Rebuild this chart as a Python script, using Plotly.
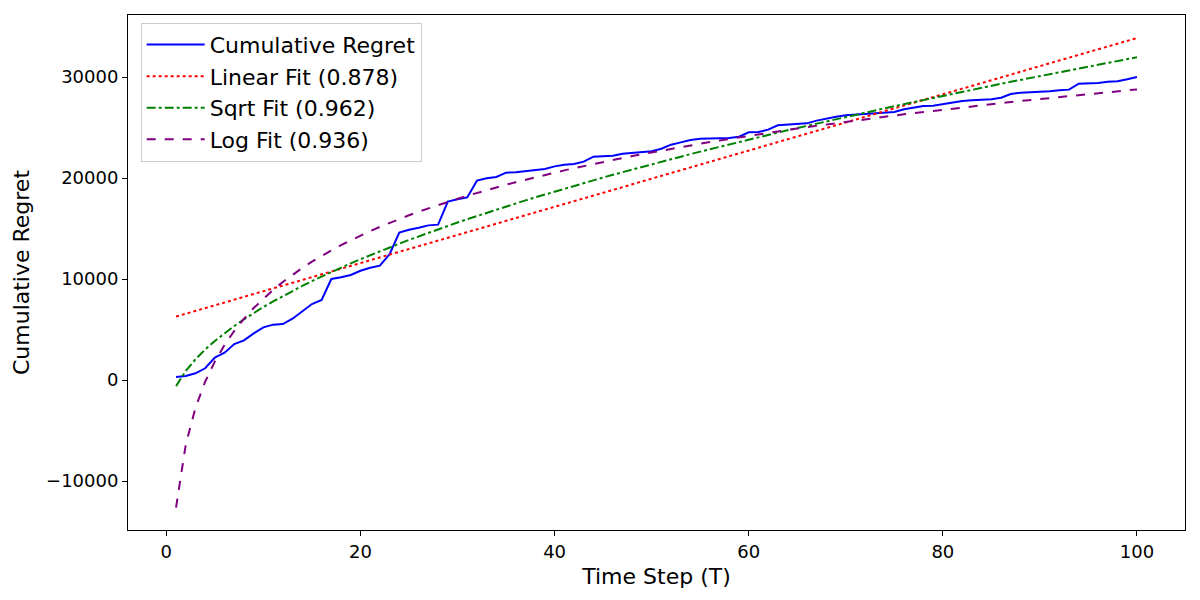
import numpy as np
import plotly.graph_objects as go

# time steps and cumulative regret
steps = list(range(1, 101))
regret = [
    300, 400, 660, 1160, 2210, 2710, 3560, 3920, 4620, 5210,
    5480, 5540, 6070, 6830, 7520, 7920, 10000, 10170, 10400, 10820,
    11120, 11320, 12450, 14590, 14880, 15080, 15310, 15380, 17660, 17890,
    18080, 19740, 19970, 20100, 20530, 20560, 20660, 20790, 20890, 21150,
    21320, 21390, 21620, 22110, 22180, 22210, 22410, 22490, 22510, 22660,
    22900, 23300, 23530, 23760, 23890, 23930, 23930, 23960, 24090, 24520,
    24550, 24790, 25220, 25280, 25280, 25410, 25680, 25910, 26070, 26210,
    26270, 26340, 26400, 26450, 26540, 26800, 27000, 27130, 27160, 27330,
    27430, 27620, 27690, 27720, 27790, 27950, 28320, 28450, 28480, 28510,
    28580, 28680, 28750, 29340, 29370, 29400, 29540, 29570, 29770, 30000,
]
fit_labels = ['Linear Fit (0.878)', 'Sqrt Fit (0.962)', 'Log Fit (0.936)']

t = np.array(steps, dtype=float)
y = np.array(regret, dtype=float)


def ls_fit(feature):
    A = np.column_stack([feature, np.ones_like(feature)])
    coef, *_ = np.linalg.lstsq(A, y, rcond=None)
    return A @ coef


linear_fit = ls_fit(t)
sqrt_fit = ls_fit(np.sqrt(t))
log_fit = ls_fit(np.log(t))

fig = go.Figure()
fig.add_trace(go.Scatter(x=steps, y=regret, mode='lines', name='Cumulative Regret',
                         line=dict(color='blue', width=2)))
fig.add_trace(go.Scatter(x=steps, y=linear_fit, mode='lines', name=fit_labels[0],
                         line=dict(color='red', width=2, dash='dot')))
fig.add_trace(go.Scatter(x=steps, y=sqrt_fit, mode='lines', name=fit_labels[1],
                         line=dict(color='green', width=2, dash='dashdot')))
fig.add_trace(go.Scatter(x=steps, y=log_fit, mode='lines', name=fit_labels[2],
                         line=dict(color='purple', width=2, dash='dash')))

axis_style = dict(showgrid=False, zeroline=False, showline=True, mirror=True,
                  linecolor='black', linewidth=1, ticks='outside', ticklen=5,
                  tickcolor='black', tickfont=dict(size=18, color='black'))

fig.update_layout(
    width=1200,
    height=600,
    margin=dict(l=120, r=23, t=7, b=78),
    plot_bgcolor='white',
    paper_bgcolor='white',
    font=dict(family='DejaVu Sans', color='black'),
    xaxis=dict(axis_style, range=[-3.95, 104.95], dtick=20,
               title=dict(text='Time Step (T)', font=dict(size=22), standoff=8)),
    yaxis=dict(axis_style, range=[-14851, 36139], dtick=10000, tickformat='d',
               title=dict(text='Cumulative Regret', font=dict(size=22), standoff=10)),
    legend=dict(x=0.012, y=0.985, xanchor='left', yanchor='top',
                bgcolor='rgba(255,255,255,0.8)', bordercolor='#cccccc', borderwidth=1,
                font=dict(size=22), itemwidth=58, tracegroupgap=0),
    showlegend=True,
)

fig.write_html("out.html")
